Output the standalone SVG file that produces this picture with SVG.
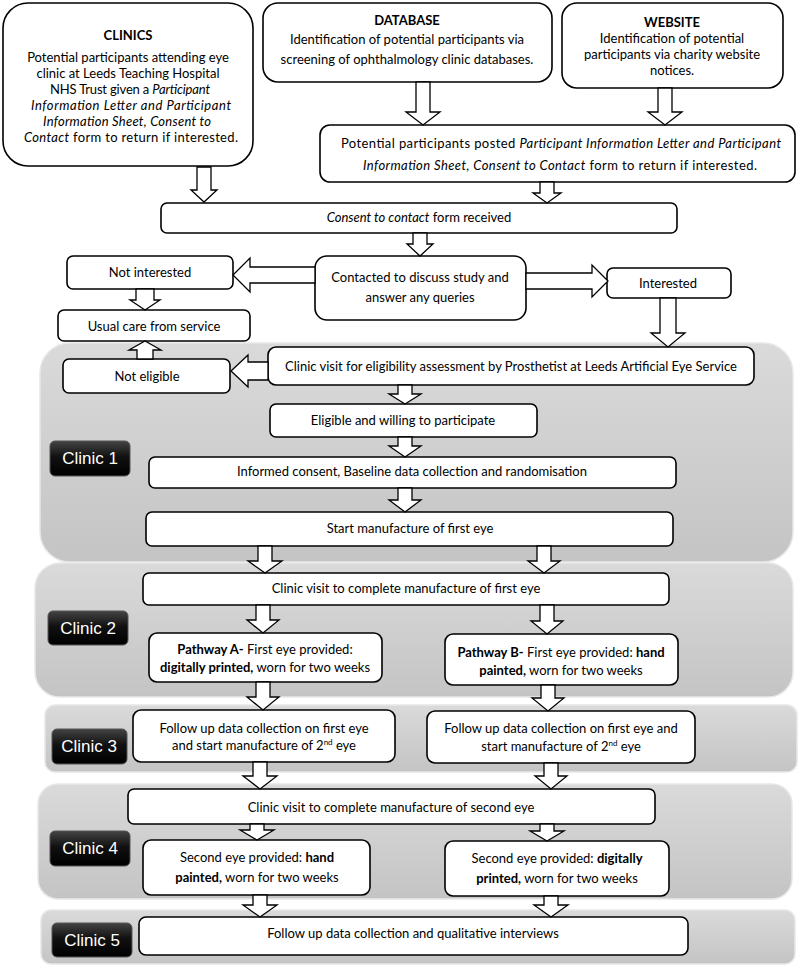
<svg xmlns="http://www.w3.org/2000/svg" width="800" height="967" viewBox="0 0 800 967">
<defs>
<linearGradient id="pg" x1="0" y1="0" x2="0" y2="1"><stop offset="0" stop-color="#dadada"/><stop offset="1" stop-color="#c4c4c4"/></linearGradient>
<linearGradient id="lg" x1="0" y1="0" x2="0" y2="1"><stop offset="0" stop-color="#444"/><stop offset="0.45" stop-color="#111"/><stop offset="1" stop-color="#000"/></linearGradient>
<style>
.panel{fill:url(#pg);stroke:#e8e8e8;stroke-width:1.5}
.box{fill:#fff;stroke:#000;stroke-width:1.6}
.lab{fill:url(#lg);stroke:#555;stroke-width:1}
.lt{font-family:"Liberation Sans",Arial,sans-serif;font-size:17px;fill:#fff;text-anchor:middle}
.t{font-family:Lato,"Liberation Sans",sans-serif;font-size:13px;fill:#000;text-anchor:middle}
.b{font-weight:bold}
.i{font-style:italic}
.ar{fill:#fff;stroke:#000;stroke-width:1.3;stroke-linejoin:miter}
</style>
</defs>

<g id="panels">
<rect class="panel" x="40" y="343" width="753" height="219" rx="30"/>
<rect class="panel" x="35" y="563" width="758" height="134" rx="25"/>
<rect class="panel" x="45" y="705" width="752" height="67" rx="10"/>
<rect class="panel" x="38" y="784" width="754" height="115" rx="20"/>
<rect class="panel" x="41" y="910" width="754" height="54" rx="10"/>
</g>

<g id="labels">
<g id="clinic1"><rect class="lab" x="50" y="441" width="80" height="35" rx="5"/><text class="lt" x="90" y="464">Clinic 1</text></g>
<g id="clinic2"><rect class="lab" x="48" y="611" width="80" height="34" rx="5"/><text class="lt" x="88" y="634">Clinic 2</text></g>
<g id="clinic3"><rect class="lab" x="52" y="729" width="75" height="35" rx="5"/><text class="lt" x="89" y="752">Clinic 3</text></g>
<g id="clinic4"><rect class="lab" x="50" y="831" width="80" height="35" rx="5"/><text class="lt" x="90" y="854">Clinic 4</text></g>
<g id="clinic5"><rect class="lab" x="52" y="923" width="80" height="34" rx="5"/><text class="lt" x="92" y="946">Clinic 5</text></g>
</g>

<g id="n-clinics">
<rect class="box" x="3" y="3" width="250" height="163" rx="25"/>
<text class="t b" x="128" y="40">CLINICS</text>
<text class="t" x="128" y="62">Potential participants attending eye</text>
<text class="t" x="128" y="78">clinic at Leeds Teaching Hospital</text>
<text class="t" x="130" y="94" textLength="160">NHS Trust given a <tspan class="i">Participant</tspan></text>
<text class="t i" x="131" y="110" textLength="200">Information Letter and Participant</text>
<text class="t i" x="127" y="126" textLength="168">Information Sheet, Consent to</text>
<text class="t" x="131" y="142" textLength="214"><tspan class="i">Contact</tspan> form to return if interested.</text>
</g>

<g id="n-database">
<rect class="box" x="263" y="3" width="289" height="79" rx="15"/>
<text class="t b" x="407" y="25">DATABASE</text>
<text class="t" x="407" y="44">Identification of potential participants via</text>
<text class="t" x="407" y="64">screening of ophthalmology clinic databases.</text>
</g>

<g id="n-website">
<rect class="box" x="562" y="3" width="221" height="85" rx="15"/>
<text class="t b" x="672" y="27">WEBSITE</text>
<text class="t" x="672" y="43">Identification of potential</text>
<text class="t" x="672" y="59">participants via charity website</text>
<text class="t" x="672" y="75">notices.</text>
</g>

<g id="n-posted">
<rect class="box" x="320" y="125" width="475" height="57" rx="10"/>
<text class="t" x="561" y="148" textLength="440">Potential participants posted <tspan class="i">Participant Information Letter and Participant</tspan></text>
<text class="t" x="560" y="170" textLength="394"><tspan class="i">Information Sheet, Consent to Contact</tspan> form to return if interested.</text>
</g>

<g id="n-consent">
<rect class="box" x="161" y="203" width="516" height="30" rx="6"/>
<text class="t" x="419" y="222"><tspan class="i">Consent to contact</tspan> form received</text>
</g>

<g id="n-contacted">
<rect class="box" x="315" y="256" width="211" height="64" rx="12"/>
<text class="t" x="420" y="282">Contacted to discuss study and</text>
<text class="t" x="420" y="302">answer any queries</text>
</g>

<g id="n-notinterested">
<rect class="box" x="67" y="256" width="166" height="33" rx="6"/>
<text class="t" x="150" y="277">Not interested</text>
</g>

<g id="n-interested">
<rect class="box" x="607" y="268" width="124" height="30" rx="6"/>
<text class="t" x="668" y="288">Interested</text>
</g>

<g id="n-usualcare">
<rect class="box" x="58" y="310" width="192" height="31" rx="6"/>
<text class="t" x="154" y="331">Usual care from service</text>
</g>

<g id="n-noteligible">
<rect class="box" x="63" y="359" width="167" height="34" rx="6"/>
<text class="t" x="147" y="381">Not eligible</text>
</g>

<g id="n-eligibility">
<rect class="box" x="268" y="347" width="486" height="38" rx="8"/>
<text class="t" x="511" y="371">Clinic visit for eligibility assessment by Prosthetist at Leeds Artificial Eye Service</text>
</g>

<g id="n-eligible">
<rect class="box" x="270" y="404" width="267" height="33" rx="6"/>
<text class="t" x="403" y="425">Eligible and willing to participate</text>
</g>

<g id="n-informed">
<rect class="box" x="149" y="457" width="527" height="31" rx="6"/>
<text class="t" x="412" y="476">Informed consent, Baseline data collection and randomisation</text>
</g>

<g id="n-start">
<rect class="box" x="146" y="512" width="527" height="34" rx="6"/>
<text class="t" x="410" y="533">Start manufacture of first eye</text>
</g>

<g id="n-visit1">
<rect class="box" x="143" y="573" width="526" height="32" rx="6"/>
<text class="t" x="406" y="593">Clinic visit to complete manufacture of first eye</text>
</g>

<g id="n-pathA">
<rect class="box" x="149" y="633" width="233" height="49" rx="8"/>
<text class="t" x="265" y="654"><tspan class="b">Pathway A-</tspan> First eye provided:</text>
<text class="t" x="265" y="672"><tspan class="b">digitally printed,</tspan> worn for two weeks</text>
</g>

<g id="n-pathB">
<rect class="box" x="445" y="634" width="233" height="51" rx="8"/>
<text class="t" x="561" y="657"><tspan class="b">Pathway B-</tspan> First eye provided: <tspan class="b">hand</tspan></text>
<text class="t" x="561" y="675"><tspan class="b">painted,</tspan> worn for two weeks</text>
</g>

<g id="n-followA">
<rect class="box" x="133" y="710" width="262" height="52" rx="8"/>
<text class="t" x="264" y="733">Follow up data collection on first eye</text>
<text class="t" x="264" y="750">and start manufacture of 2<tspan font-size="8" dy="-5">nd</tspan><tspan dy="5"> eye</tspan></text>
</g>

<g id="n-followB">
<rect class="box" x="427" y="711" width="268" height="52" rx="8"/>
<text class="t" x="561" y="733">Follow up data collection on first eye and</text>
<text class="t" x="561" y="751">start manufacture of 2<tspan font-size="8" dy="-5">nd</tspan><tspan dy="5"> eye</tspan></text>
</g>

<g id="n-visit2">
<rect class="box" x="128" y="789" width="527" height="35" rx="6"/>
<text class="t" x="391" y="812">Clinic visit to complete manufacture of second eye</text>
</g>

<g id="n-secondA">
<rect class="box" x="143" y="840" width="227" height="55" rx="8"/>
<text class="t" x="257" y="862">Second eye provided: <tspan class="b">hand</tspan></text>
<text class="t" x="257" y="882"><tspan class="b">painted,</tspan> worn for two weeks</text>
</g>

<g id="n-secondB">
<rect class="box" x="445" y="841" width="224" height="55" rx="8"/>
<text class="t" x="557" y="863">Second eye provided: <tspan class="b">digitally</tspan></text>
<text class="t" x="557" y="883"><tspan class="b">printed,</tspan> worn for two weeks</text>
</g>

<g id="n-final">
<rect class="box" x="139" y="917" width="549" height="38" rx="7"/>
<text class="t" x="413" y="938">Follow up data collection and qualitative interviews</text>
</g>

<g id="connectors">
<path class="ar" d="M197 167V190H191L204 202L217 190H211V167Z"/>
<path class="ar" d="M416 82V112H406L423 125L440 112H430V82Z"/>
<path class="ar" d="M658 88V112H648L665 125L682 112H672V88Z"/>
<path class="ar" d="M540 182V193H533L547 203L561 193H554V182Z"/>
<path class="ar" d="M413 233V244H407L420 256L433 244H427V233Z"/>
<path class="ar" d="M315 267H250V258L233 275L250 292V283H315Z"/>
<path class="ar" d="M526 273H592V265L608 281L592 297V289H526Z"/>
<path class="ar" d="M136 289V300H130L145 310L160 300H154V289Z"/>
<path class="ar" d="M137 359V350H129L145 341L161 350H153V359Z"/>
<path class="ar" d="M660 298V333H651L668 347L685 333H676V298Z"/>
<path class="ar" d="M268 362H248V355L231 371L248 387V380H268Z"/>
<path class="ar" d="M398 385V394H389L405 404L421 394H412V385Z"/>
<path class="ar" d="M398 437V446H389L405 457L421 446H412V437Z"/>
<path class="ar" d="M398 488V500H389L405 512L421 500H412V488Z"/>
<path class="ar" d="M258 546V561H248L265 573L282 561H272V546Z"/>
<path class="ar" d="M537 546V561H528L544 573L560 561H551V546Z"/>
<path class="ar" d="M256 605V620H247L263 633L279 620H270V605Z"/>
<path class="ar" d="M540 605V621H531L547 634L563 621H554V605Z"/>
<path class="ar" d="M256 682V697H247L263 710L279 697H270V682Z"/>
<path class="ar" d="M541 685V698H532L548 711L564 698H555V685Z"/>
<path class="ar" d="M253 762V776H243L260 789L277 776H267V762Z"/>
<path class="ar" d="M544 763V776H535L551 789L567 776H558V763Z"/>
<path class="ar" d="M250 824V830H240L257 840L274 830H264V824Z"/>
<path class="ar" d="M540 824V831H530L547 841L564 831H554V824Z"/>
<path class="ar" d="M253 895V905H243L260 917L277 905H267V895Z"/>
<path class="ar" d="M544 896V905H534L551 917L568 905H558V896Z"/>
</g>
</svg>
